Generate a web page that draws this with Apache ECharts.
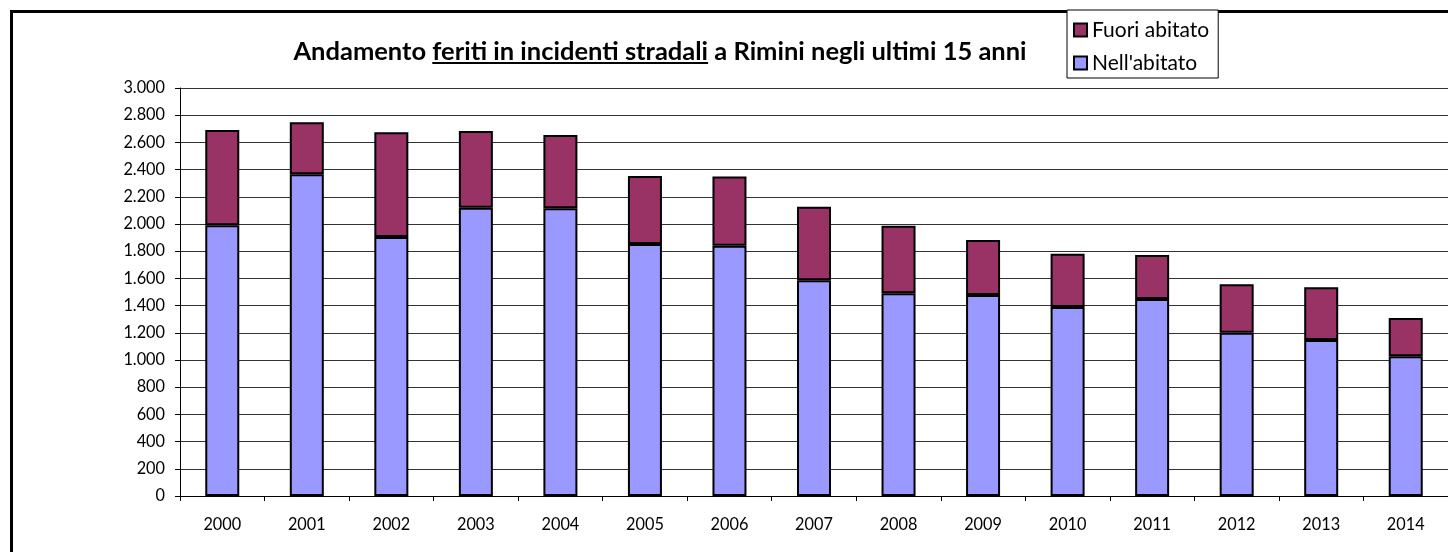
<!DOCTYPE html>
<html>
<head>
<meta charset="utf-8">
<script src="https://cdn.jsdelivr.net/npm/echarts@6/dist/echarts.min.js"></script>
<style>
html,body{margin:0;padding:0;background:#fff;overflow:hidden;}
#chart{width:1448px;height:552px;}
</style>
</head>
<body>
<div id="chart"></div>
<script>
var years = ['2000','2001','2002','2003','2004','2005','2006','2007','2008','2009','2010','2011','2012','2013','2014'];
var nellAbitato = [1990, 2365, 1905, 2120, 2115, 1853, 1840, 1586, 1490, 1478, 1390, 1449, 1201, 1147, 1027];
var fuoriAbitato = [701, 383, 769, 564, 539, 500, 510, 541, 498, 404, 392, 323, 356, 388, 282];
var seriesNames = ['Fuori abitato', "Nell'abitato"];
var titleParts = ['Andamento ', 'feriti in incidenti stradali', ' a Rimini negli ultimi 15 anni'];

var FONT = 'Lato, "Open Sans", sans-serif';
var titleSize = 25.5;
var ctx = document.createElement('canvas').getContext('2d');
ctx.font = 'bold ' + titleSize + 'px ' + FONT;
var w0 = ctx.measureText(titleParts[0]).width;
var w1 = ctx.measureText(titleParts[1]).width;
var w2 = ctx.measureText(titleParts[2]).width;
var titleCenter = 660, titleMid = 52;
var titleLeft = titleCenter - (w0 + w1 + w2) / 2;

var chart = echarts.init(document.getElementById('chart'), null, {renderer: 'canvas'});
chart.setOption({
  animation: false,
  backgroundColor: '#fff',
  title: {
    text: '{a|' + titleParts[0] + '}{a|' + titleParts[1] + '}{a|' + titleParts[2] + '}',
    left: titleLeft,
    top: titleMid - 15,
    padding: 0,
    textStyle: {
      rich: {
        a: {fontFamily: FONT, fontWeight: 'bold', fontSize: titleSize, color: '#000', lineHeight: 30}
      }
    }
  },
  legend: {
    data: seriesNames,
    orient: 'vertical',
    left: 1067,
    top: 10,
    padding: [9, 9, 4, 6],
    itemGap: 11,
    itemWidth: 13,
    itemHeight: 13,
    icon: 'rect',
    borderColor: '#000',
    borderWidth: 1,
    backgroundColor: '#fff',
    itemStyle: {borderColor: '#000', borderWidth: 2},
    textStyle: {fontFamily: FONT, fontSize: 21, color: '#000', lineHeight: 22}
  },
  grid: {left: 180, top: 88, width: 1290, height: 408, containLabel: false},
  xAxis: {
    type: 'category',
    data: years,
    axisLine: {lineStyle: {color: '#000', width: 1}},
    axisTick: {show: true, length: 5, lineStyle: {color: '#000'}},
    axisLabel: {fontFamily: FONT, fontSize: 16.3, color: '#000', margin: 21}
  },
  yAxis: {
    type: 'value',
    min: 0, max: 3000, interval: 200,
    axisLine: {show: true, lineStyle: {color: '#000', width: 1}},
    axisTick: {show: true, length: 5, lineStyle: {color: '#000'}},
    axisLabel: {
      fontFamily: FONT, fontSize: 16.3, color: '#000', margin: 15,
      formatter: function (v) { return String(v).replace(/\B(?=(\d{3})+(?!\d))/g, '.'); }
    },
    splitLine: {lineStyle: {color: '#333', width: 1}}
  },
  series: [
    {
      name: "Nell'abitato", type: 'bar', stack: 'tot', data: nellAbitato, barWidth: 34,
      itemStyle: {color: '#9999FF', borderColor: '#000', borderWidth: 2}
    },
    {
      name: 'Fuori abitato', type: 'bar', stack: 'tot', data: fuoriAbitato, barWidth: 34,
      itemStyle: {color: '#993366', borderColor: '#000', borderWidth: 2}
    }
  ],
  graphic: [
    {type: 'rect', z: -1, shape: {x: 11.5, y: 11.5, width: 1600, height: 700}, style: {fill: 'none', stroke: '#000', lineWidth: 3}},
    {type: 'line', shape: {x1: titleLeft + w0, y1: titleMid + 11, x2: titleLeft + w0 + w1, y2: titleMid + 11}, style: {stroke: '#000', lineWidth: 2}}
  ]
});
</script>
</body>
</html>
